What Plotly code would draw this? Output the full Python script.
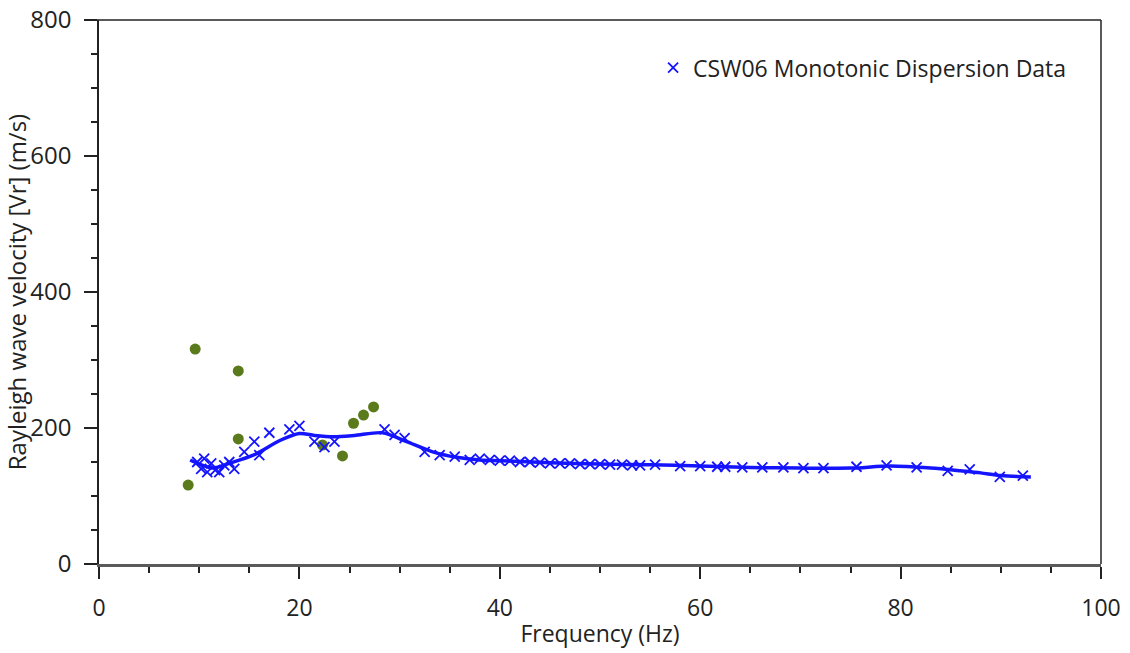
import plotly.graph_objects as go

# Monotonic dispersion picks (frequency in Hz, phase velocity in m/s)
disp_freq = [9.8, 10.2, 10.5, 10.8, 11.2, 11.6, 12.0, 12.5, 13.0, 13.5, 14.5,
             15.5, 16.0, 17.0, 19.0, 20.0, 21.5, 22.5, 23.5, 28.5, 29.5, 30.5,
             32.5, 34.0, 35.5, 37.0, 38.0, 39.0, 40.0, 41.0, 42.0, 43.0, 44.0,
             45.0, 46.0, 47.0, 48.0, 49.0, 50.0, 51.0, 52.2, 53.2, 54.0, 55.5,
             58.0, 60.0, 61.7, 62.5, 64.2, 66.2, 68.3, 70.3, 72.3, 75.6, 78.6,
             81.6, 84.7, 86.9, 89.9, 92.2]
disp_vel = [150, 140, 155, 135, 148, 138, 135, 145, 150, 140, 165,
            180, 160, 193, 198, 203, 180, 172, 180, 198, 190, 185,
            165, 160, 158, 153, 155, 153, 152, 152, 150, 150, 149,
            148, 148, 148, 147, 147, 147, 146, 146, 145, 145, 146,
            144, 144, 143, 143, 142, 142, 142, 141, 141, 143, 145,
            142, 137, 139, 128, 130]

# Smoothed dispersion curve through the picks
curve_freq = [9.1, 10.0, 11.4, 13.0, 15.4, 18.1, 20.0, 21.5, 23.4, 25.5, 28.3,
              30.7, 33.3, 35.7, 38.0, 40.0, 45.0, 50.0, 55.0, 60.0, 65.0, 70.0,
              75.0, 79.0, 83.0, 86.0, 88.0, 90.0, 93.0]
curve_vel = [153, 147, 141, 148, 160, 182, 192, 189, 187, 189, 193,
             180, 165, 157, 153, 152, 149, 147, 146, 144, 142, 141,
             141, 144, 141, 137, 134, 130, 128]

# Rejected (non-monotonic) picks
out_freq = [8.9, 9.6, 13.9, 13.9, 22.3, 24.3, 25.4, 26.4, 27.4]
out_vel = [116, 316, 284, 184, 175, 159, 207, 219, 231]

x_ticks = [0, 20, 40, 60, 80, 100]
y_ticks = [0, 200, 400, 600, 800]

BLUE = "#1414ff"
GREEN = "#5b7a1c"
FONT = "Open Sans, Noto Sans, sans-serif"

fig = go.Figure()

fig.add_trace(go.Scatter(
    x=out_freq, y=out_vel, mode="markers", showlegend=False,
    marker=dict(symbol="circle", size=11, color=GREEN),
))

fig.add_trace(go.Scatter(
    x=curve_freq, y=curve_vel, mode="lines", showlegend=False,
    line=dict(color=BLUE, width=3.5, shape="spline", smoothing=0.8),
))

fig.add_trace(go.Scatter(
    x=disp_freq, y=disp_vel, mode="markers",
    name="CSW06 Monotonic Dispersion Data",
    marker=dict(symbol="x-thin-open", size=10, color=BLUE,
                line=dict(color=BLUE, width=1.8)),
))

# top and right borders of the plot box
fig.add_shape(type="line", xref="paper", yref="paper",
              x0=-0.013, x1=1, y0=1, y1=1, line=dict(color="#222", width=1.5))
fig.add_shape(type="line", xref="paper", yref="paper",
              x0=1, x1=1, y0=0, y1=1, line=dict(color="#222", width=1.5))

fig.update_layout(
    width=1130, height=653,
    margin=dict(l=99, r=29, t=20, b=89),
    paper_bgcolor="white", plot_bgcolor="white",
    font=dict(family=FONT, size=23, color="#222"),
    legend=dict(x=0.553, y=0.952, xanchor="left", yanchor="top",
                bgcolor="rgba(0,0,0,0)", font=dict(size=23, color="#222")),
)

fig.update_xaxes(
    range=[0, 100], tickvals=x_ticks, ticktext=[str(v) for v in x_ticks],
    automargin=False,
    showgrid=False, zeroline=False,
    showline=True, linecolor="#5a5a5a", linewidth=3,
    ticks="outside", ticklen=12, tickwidth=1.5, tickcolor="#222",
    minor=dict(dtick=5, ticks="outside", ticklen=6, tickwidth=1.5, tickcolor="#222"),
    ticklabelstandoff=9,
    tickfont=dict(size=23),
    title=dict(text="Frequency (Hz)", font=dict(size=23), standoff=5),
)

fig.update_yaxes(
    range=[0, 800], tickvals=y_ticks, ticktext=[str(v) for v in y_ticks],
    automargin=False,
    showgrid=False, zeroline=False,
    showline=True, linecolor="#222", linewidth=1.5,
    ticks="outside", ticklen=13, tickwidth=1.5, tickcolor="#222",
    minor=dict(dtick=50, ticks="outside", ticklen=6, tickwidth=1.5, tickcolor="#222"),
    ticklabelstandoff=8,
    tickfont=dict(size=24),
    title=dict(text="Rayleigh wave velocity [Vr] (m/s)", font=dict(size=24), standoff=4),
)

fig.write_html("out.html")
